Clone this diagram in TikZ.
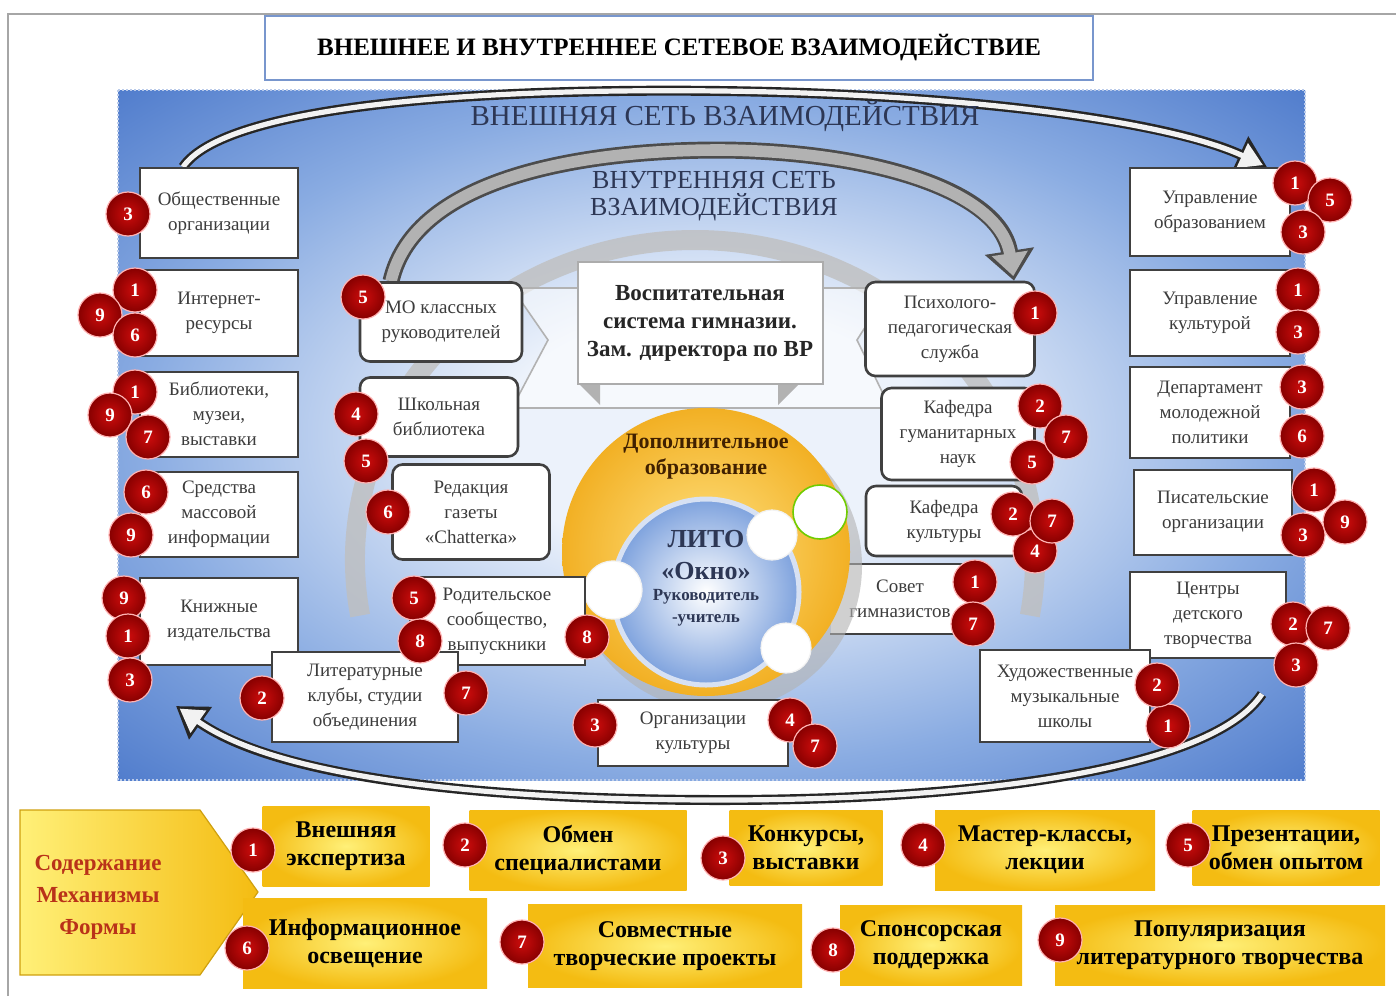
\documentclass[tikz,border=0pt]{standalone}
\usepackage{fontspec}
\setmainfont{Liberation Serif}
\usetikzlibrary{arrows.meta}

\definecolor{netdark}{RGB}{58,106,196}
\definecolor{netmid}{RGB}{138,172,226}
\definecolor{netlight}{RGB}{236,242,251}
\definecolor{badgered}{RGB}{205,12,12}
\definecolor{badgedark}{RGB}{135,0,0}
\definecolor{boxtext}{RGB}{60,60,60}
\definecolor{titleblue}{RGB}{120,150,205}
\definecolor{ylight}{RGB}{255,240,120}
\definecolor{ydeep}{RGB}{244,188,18}
\definecolor{orangelight}{RGB}{255,226,130}
\definecolor{orangedeep}{RGB}{242,176,36}
\definecolor{pentred}{RGB}{185,50,25}
\definecolor{inkblue}{RGB}{45,55,85}

\pgfdeclareradialshading{netshade}{\pgfpoint{0bp}{0bp}}{%
  color(0bp)=(netlight); color(9bp)=(netlight); color(24bp)=(netmid);
  color(40bp)=(netdark); color(50bp)=(netdark)}

\pgfdeclarelayer{bg}
\pgfdeclarelayer{back}
\pgfsetlayers{bg,back,main}

\tikzset{every picture/.style={line width=0.75pt}}
\tikzset{
  extbox/.style={rectangle, fill=white, draw=black!75, line width=1pt, text=boxtext,
    align=center, font=\fontsize{9.5}{12.5}\selectfont, inner sep=2pt},
  inbox/.style={extbox, rounded corners=5pt, line width=1.3pt},
  badge/.style={circle, minimum size=22pt, inner sep=0pt, inner color=badgered,
    outer color=badgedark, draw=white!70!red, line width=0.6pt, text=white,
    font=\bfseries\fontsize{9.5}{10}\selectfont},
  ybox/.style={rectangle, inner color=ylight, outer color=ydeep, align=center,
    font=\bfseries\fontsize{12}{14}\selectfont, inner sep=2pt},
  ribbonout/.style={draw=black!85, line width=5pt, -{Triangle[length=15pt,width=19pt]}},
  ribbonin/.style={draw=gray!10, line width=2.6pt, shorten >=2.2pt,
    -{Triangle[length=11.5pt,width=13pt]}},
  ribbongrey/.style={draw=black!70, line width=8.5pt, -{Triangle[length=15pt,width=24pt]}},
  ribbongreyin/.style={draw=gray!60, line width=5.8pt, shorten >=2.3pt,
    -{Triangle[length=11.5pt,width=17.5pt]}},
  whitedot/.style={fill=white, draw=white!90!gray, line width=0.6pt},
}

\begin{document}
\begin{tikzpicture}[x=0.5pt,y=0.5pt,yscale=-1,xscale=1]
	\useasboundingbox (0,0) rectangle (1396,996);

	%Page frame
	\draw [gray!70, line width=1pt] (8,996) -- (8,14) -- (1396,14) ;

	%Background of the network
	\begin{pgfonlayer}{bg}
	\shade [shading=netshade] (118,90) rectangle (1305,780) ;
	\draw [white!65!netdark, densely dotted, line width=1pt] (118,90) rectangle (1305,780) ;
	%Grey ring
	\draw [gray!50, line width=10pt, opacity=.8] (695,560) ++(170:340 and 320) arc [start angle=170, end angle=370, x radius=340, y radius=320] ;
	\end{pgfonlayer}

	% Title
	\node [rectangle, fill=white, draw=titleblue, line width=0.8pt, minimum width=414pt, minimum height=32pt, font=\bfseries\fontsize{12.5}{14}\selectfont] (title) at (679,48) {ВНЕШНЕЕ И ВНУТРЕННЕЕ СЕТЕВОЕ ВЗАИМОДЕЙСТВИЕ};
	% Text Node
	\node [text=inkblue, font=\fontsize{14.5}{16}\selectfont] (extlabel) at (725,116) {ВНЕШНЯЯ СЕТЬ ВЗАИМОДЕЙСТВИЯ};
	% Text Node
	\node [text=inkblue, align=center, font=\fontsize{13}{13.5}\selectfont] (inlabel) at (714,196) {ВНУТРЕННЯЯ СЕТЬ\\ВЗАИМОДЕЙСТВИЯ};

	%Ribbon behind the banner
	\draw [fill=white, fill opacity=.55, draw=gray!60, line width=0.8pt] (512,288) -- (890,288) -- (857,340) -- (890,408) -- (512,408) -- (548,340) -- cycle ;
	%Banner folds
	\fill [gray!60] (578,383) -- (600,383) -- (600,405) -- cycle ;
	\fill [gray!60] (778,383) -- (800,383) -- (778,405) -- cycle ;
	% Banner
	\node [rectangle, fill=white, draw=gray!65, line width=1pt, minimum width=122.5pt, minimum height=61pt, align=center, font=\bfseries\fontsize{11.5}{14}\selectfont, text=black!85] (vosp) at (700,323) {Воспитательная\\система гимназии.\\Зам. директора по ВР};

	% Box behind the circle
	\node [extbox, minimum width=69pt, minimum height=34pt, draw=none] (sovet) at (900,599) {Совет\\гимназистов};
	\draw [black!75, line width=1pt] (sovet.north west) -- (sovet.north east) -- (sovet.south east) -- (sovet.south west) ;

	%Circles
	\fill [gray!60, opacity=.6] (717,566) circle [radius=145] ;
	\shade [inner color=orangelight, outer color=orangedeep] (706,552) circle [radius=144] ;
	\draw [white!80!netdark, line width=2.5pt, inner color=white, outer color=netmid!85!netdark] (706,592) circle [radius=93] ;
	\draw [whitedot] (772,535) circle [radius=25] ;
	\draw [fill=white, draw=green!45!yellow!80!black, line width=0.8pt] (820,512) circle [radius=27] ;
	\draw [whitedot] (613,590) circle [radius=29] ;
	\draw [whitedot] (786,648) circle [radius=25] ;
	% Text Node
	\node [align=center, text=black!75!orange, font=\bfseries\fontsize{11}{13}\selectfont] (dopobr) at (706,457) {Дополнительное\\образование};
	% Text Node
	\node [align=center, text=inkblue, font=\bfseries\fontsize{13}{16}\selectfont] (lito) at (706,555) {ЛИТО\\«Окно»};
	% Text Node
	\node [align=center, text=inkblue, font=\bfseries\fontsize{8.5}{11}\selectfont] (rukov) at (706,608) {Руководитель\\-учитель};

	%External boxes, left
	\node [extbox, minimum width=79pt, minimum height=45pt] (obsh) at (219,213) {Общественные\\организации};
	\node [extbox, minimum width=79pt, minimum height=43pt] (inet) at (219,313) {Интернет-\\ресурсы};
	\node [extbox, minimum width=79pt, minimum height=42.5pt] (bibl) at (219,414) {Библиотеки,\\музеи,\\выставки};
	\node [extbox, minimum width=79pt, minimum height=42.5pt] (smi) at (219,514) {Средства\\массовой\\информации};
	\node [extbox, minimum width=79pt, minimum height=43.5pt] (kniz) at (219,621) {Книжные\\издательства};

	%External boxes, right
	\node [extbox, minimum width=80pt, minimum height=44pt] (upobr) at (1210,212) {Управление\\образованием};
	\node [extbox, minimum width=80pt, minimum height=43pt] (upkult) at (1210,313) {Управление\\культурой};
	\node [extbox, minimum width=80pt, minimum height=45.5pt] (dep) at (1210,412) {Департамент\\молодежной\\политики};
	\node [extbox, minimum width=79pt, minimum height=42.5pt] (pisat) at (1213,512) {Писательские\\организации};
	\node [extbox, minimum width=78pt, minimum height=43pt] (centr) at (1208,615) {Центры\\детского\\творчества};

	%Inner boxes, left
	\node [inbox, minimum width=81pt, minimum height=39.5pt] (mo) at (441,322) {МО классных\\руководителей};
	\node [inbox, minimum width=79pt, minimum height=39.5pt] (shkbib) at (439,417) {Школьная\\библиотека};
	\node [inbox, minimum width=78.5pt, minimum height=47.5pt] (redak) at (471,512) {Редакция\\газеты\\«Chatterка»};
	\node [extbox, minimum width=87.5pt, minimum height=44pt] (rodit) at (497,621) {Родительское\\сообщество,\\выпускники};
	\node [extbox, minimum width=93pt, minimum height=45pt] (litkl) at (365,697) {Литературные\\клубы, студии\\объединения};
	\node [extbox, minimum width=95pt, minimum height=33pt] (orgk) at (693,733) {Организации\\культуры};

	%Inner boxes, right
	\node [inbox, minimum width=84.5pt, minimum height=47pt] (psih) at (950,329) {Психолого-\\педагогическая\\служба};
	\node [inbox, minimum width=76.5pt, minimum height=46pt] (kafgum) at (958,434) {Кафедра\\гуманитарных\\наук};
	\node [inbox, minimum width=78pt, minimum height=35pt] (kafkult) at (944,521) {Кафедра\\культуры};
	\node [extbox, minimum width=85pt, minimum height=46pt] (hudozh) at (1065,696) {Художественные\\музыкальные\\школы};

	%Curved arrows
	\coordinate (botstart) at (1262,694);
	\coordinate (botend) at (176,706);
	\begin{pgfonlayer}{back}
	\draw [ribbonout] ([xshift=-18pt]obsh.north) .. controls (225,106) and (470,88) .. (720,91) .. controls (970,94) and (1170,122) .. ([xshift=-12pt]upobr.north east) ;
	\draw [ribbonin] ([xshift=-18pt]obsh.north) .. controls (225,106) and (470,88) .. (720,91) .. controls (970,94) and (1170,122) .. ([xshift=-12pt]upobr.north east) ;
	\draw [ribbongrey] ([xshift=-25pt]mo.north) .. controls (415,175) and (590,150) .. (720,150) .. controls (870,151) and (1000,190) .. ([xshift=32pt]psih.north) ;
	\draw [ribbongreyin] ([xshift=-25pt]mo.north) .. controls (415,175) and (590,150) .. (720,150) .. controls (870,151) and (1000,190) .. ([xshift=32pt]psih.north) ;
	\draw [ribbonout] (botstart) .. controls (1215,765) and (1000,800) .. (720,800) .. controls (450,800) and (270,772) .. (botend) ;
	\draw [ribbonin] (botstart) .. controls (1215,765) and (1000,800) .. (720,800) .. controls (450,800) and (270,772) .. (botend) ;
	\end{pgfonlayer}

	%Badges, left column
	\node [badge] (obsh-3) at (128,214) {3};
	\node [badge] (inet-1) at (135,290) {1};
	\node [badge] (inet-9) at (100,315) {9};
	\node [badge] (inet-6) at (135,335) {6};
	\node [badge] (bibl-1) at (135,392) {1};
	\node [badge] (bibl-9) at (110,415) {9};
	\node [badge] (bibl-7) at (148,437) {7};
	\node [badge] (smi-6) at (146,492) {6};
	\node [badge] (smi-9) at (131,535) {9};
	\node [badge] (kniz-9) at (124,598) {9};
	\node [badge] (kniz-1) at (128,636) {1};
	\node [badge] (kniz-3) at (130,680) {3};

	%Badges, inner left
	\node [badge] (mo-5) at (363,297) {5};
	\node [badge] (shkbib-4) at (356,414) {4};
	\node [badge] (shkbib-5) at (366,461) {5};
	\node [badge] (redak-6) at (388,512) {6};
	\node [badge] (rodit-5) at (414,598) {5};
	\node [badge] (rodit-8) at (420,641) {8};
	\node [badge] (rodit-8b) at (587,637) {8};
	\node [badge] (litkl-2) at (262,698) {2};
	\node [badge] (litkl-7) at (466,693) {7};
	\node [badge] (orgk-3) at (595,725) {3};
	\node [badge] (orgk-4) at (790,720) {4};
	\node [badge] (orgk-7) at (815,746) {7};

	%Badges, inner right
	\node [badge] (psih-1) at (1035,313) {1};
	\node [badge] (kafgum-2) at (1040,406) {2};
	\node [badge] (kafgum-5) at (1032,462) {5};
	\node [badge] (kafgum-7) at (1066,437) {7};
	\node [badge] (kafkult-4) at (1035,551) {4};
	\node [badge] (kafkult-2) at (1013,514) {2};
	\node [badge] (kafkult-7) at (1052,521) {7};
	\node [badge] (sovet-1) at (975,582) {1};
	\node [badge] (sovet-7) at (973,624) {7};
	\node [badge] (hudozh-1) at (1168,726) {1};
	\node [badge] (hudozh-2) at (1157,685) {2};

	%Badges, right column
	\node [badge] (upobr-1) at (1295,183) {1};
	\node [badge] (upobr-5) at (1330,200) {5};
	\node [badge] (upobr-3) at (1303,232) {3};
	\node [badge] (upkult-1) at (1298,290) {1};
	\node [badge] (upkult-3) at (1298,332) {3};
	\node [badge] (dep-3) at (1302,387) {3};
	\node [badge] (dep-6) at (1302,436) {6};
	\node [badge] (pisat-1) at (1314,490) {1};
	\node [badge] (pisat-3) at (1303,535) {3};
	\node [badge] (pisat-9) at (1345,522) {9};
	\node [badge] (centr-2) at (1293,624) {2};
	\node [badge] (centr-3) at (1296,665) {3};
	\node [badge] (centr-7) at (1328,628) {7};

	%Legend arrow
	\shade [left color=ylight, right color=ydeep, draw=ydeep!85!black, line width=0.6pt] (20,810) -- (200,810) -- (258,892) -- (200,975) -- (20,975) -- cycle ;
	% Text Node
	\node [align=center, text=pentred, font=\bfseries\fontsize{11.5}{16}\selectfont] (pent) at (98,897) {Содержание\\Механизмы\\Формы};

	%Legend boxes
	\node [ybox, minimum width=83.5pt, minimum height=40pt] (form1) at (346,846) {Внешняя\\экспертиза};
	\node [ybox, minimum width=108.5pt, minimum height=40pt] (form2) at (578,850) {Обмен\\специалистами};
	\node [ybox, minimum width=76.5pt, minimum height=37.5pt] (form3) at (806,848) {Конкурсы,\\выставки};
	\node [ybox, minimum width=110pt, minimum height=40pt] (form4) at (1045,850) {Мастер-классы,\\лекции};
	\node [ybox, minimum width=93.5pt, minimum height=37.5pt] (form5) at (1286,848) {Презентации,\\обмен опытом};
	\node [ybox, minimum width=122pt, minimum height=45pt] (form6) at (365,943) {Информационное\\освещение};
	\node [ybox, minimum width=137pt, minimum height=41.5pt] (form7) at (665,946) {Совместные\\творческие проекты};
	\node [ybox, minimum width=91pt, minimum height=40pt] (form8) at (931,945) {Спонсорская\\поддержка};
	\node [ybox, minimum width=165pt, minimum height=40pt] (form9) at (1220,945) {Популяризация\\литературного творчества};

	%Legend badges
	\node [badge] (num1) at (253,850) {1};
	\node [badge] (num2) at (465,845) {2};
	\node [badge] (num3) at (723,858) {3};
	\node [badge] (num4) at (923,845) {4};
	\node [badge] (num5) at (1188,845) {5};
	\node [badge] (num6) at (247,948) {6};
	\node [badge] (num7) at (522,942) {7};
	\node [badge] (num8) at (833,950) {8};
	\node [badge] (num9) at (1060,940) {9};

\end{tikzpicture}
\end{document}
